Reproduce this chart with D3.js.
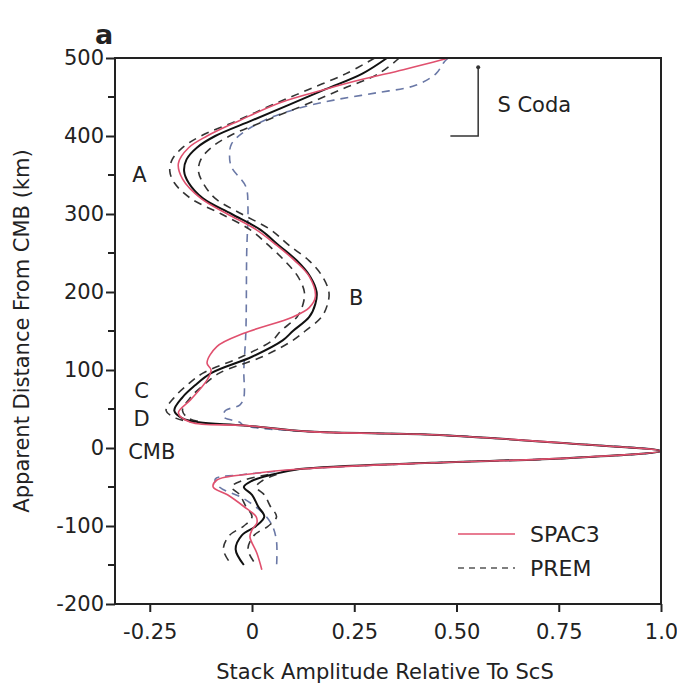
<!DOCTYPE html>
<meta charset="utf-8">
<script src="https://d3js.org/d3.v7.min.js"></script>
<style>
  body { margin: 0; background: #fff; }
  text { font-family: "DejaVu Sans", sans-serif; fill: #222; }
</style>
<div id="chart"></div>
<script>
// observed stack (mean) with its uncertainty half-width
const obsDepth = [500, 480, 460, 440, 420, 400, 385, 370, 355, 340, 320, 300, 280, 260, 240, 220, 200, 185, 168, 150,
  138, 117, 96, 80, 65, 48, 38, 33, 29, 21, 17, 6, -4, -13, -19, -27, -34, -42, -50, -60, -75, -88, -100, -112, -130, -150];
const obsAmp = [0.33, 0.27, 0.18, 0.09, 0.0, -0.09, -0.135, -0.16, -0.166, -0.155, -0.12, -0.05, 0.02, 0.065, 0.11, 0.142, 0.158, 0.155, 0.14, 0.10,
  0.075, 0.0, -0.10, -0.14, -0.17, -0.19, -0.17, -0.13, -0.02, 0.14, 0.44, 0.77, 1.0, 0.77, 0.44, 0.117, 0.05, 0.0, -0.02, 0.0, 0.015, 0.03, 0.01, -0.025, -0.04, -0.02];
const obsErr = [0.03, 0.04, 0.04, 0.04, 0.035, 0.035, 0.035, 0.035, 0.035, 0.035, 0.03, 0.025, 0.025, 0.025, 0.03, 0.03, 0.03, 0.03, 0.03, 0.03,
  0.025, 0.025, 0.02, 0.02, 0.02, 0.02, 0.015, 0.01, 0, 0, 0, 0, 0, 0, 0, 0, 0.01, 0.025, 0.03, 0.03, 0.03, 0.03, 0.03, 0.03, 0.03, 0.03];

// SPAC3 synthetic
const spacDepth = [500, 497, 485, 472, 460, 443, 420, 400, 385, 365, 345, 320, 300, 280, 260, 240, 220, 194, 180, 168,
  147, 130, 109, 100, 87, 62, 45, 33, 29, 21, 17, 6, -4, -13, -19, -27, -33, -41, -50, -60, -75, -88, -96, -105, -114, -135, -156];
const spacAmp = [0.48, 0.46, 0.37, 0.265, 0.18, 0.07, -0.03, -0.11, -0.155, -0.18, -0.17, -0.125, -0.06, 0.01, 0.06, 0.105, 0.14, 0.155, 0.14, 0.10,
  -0.02, -0.086, -0.11, -0.10, -0.11, -0.15, -0.18, -0.15, -0.02, 0.14, 0.44, 0.77, 1.0, 0.77, 0.44, 0.117, 0.0, -0.086, -0.095, -0.06, -0.02, 0.01, 0.012, 0.0, -0.005, 0.012, 0.024];

// PREM synthetic
const premDepth = [500, 495, 480, 465, 455, 446, 435, 420, 405, 390, 375, 360, 335, 310, 250, 150, 100, 65, 55, 48,
  40, 33, 29, 21, 17, 6, -4, -13, -19, -27, -30, -34, -40, -50, -65, -85, -100, -120, -152];
const premAmp = [0.48, 0.47, 0.45, 0.40, 0.30, 0.20, 0.11, 0.03, -0.02, -0.05, -0.055, -0.05, -0.015, -0.01, -0.013, -0.015, -0.02, -0.02, -0.03, -0.065,
  -0.07, -0.03, -0.02, 0.14, 0.44, 0.77, 1.0, 0.77, 0.44, 0.117, 0.06, -0.02, -0.09, -0.08, -0.02, 0.03, 0.05, 0.06, 0.06];

const xTicks = [-0.25, 0, 0.25, 0.5, 0.75, 1.0];
const xTickLabels = ["-0.25", "0", "0.25", "0.50", "0.75", "1.0"];
const yTicks = [-200, -100, 0, 100, 200, 300, 400, 500];
const yMinor = [-150, -50, 50, 150, 250, 350, 450];

const peakLabels = [
  { t: "A", amp: -0.275, depth: 350 },
  { t: "B", amp: 0.255, depth: 193 },
  { t: "C", amp: -0.27, depth: 74 },
  { t: "D", amp: -0.27, depth: 38 },
  { t: "CMB", amp: -0.245, depth: -5 }
];

const width = 677, height = 694;
const svg = d3.select("#chart").append("svg")
  .attr("width", width)
  .attr("height", height);

const x = d3.scaleLinear().domain([-0.335, 1.0]).range([115, 661]);
const y = d3.scaleLinear().domain([-200, 500]).range([604, 58]);

const toRows = (ds, as, es) => ds.map((d, i) => ({ depth: d, amp: as[i], err: es ? es[i] : 0 }));
const obs = toRows(obsDepth, obsAmp, obsErr);
const spac = toRows(spacDepth, spacAmp);
const prem = toRows(premDepth, premAmp);

const line = d3.line()
  .x(d => x(d.amp))
  .y(d => y(d.depth))
  .curve(d3.curveCatmullRom.alpha(0.5));

const plot = svg.append("g");

// PREM
plot.append("path")
  .datum(prem)
  .attr("fill", "none")
  .attr("stroke", "#6a78a6")
  .attr("stroke-width", 1.6)
  .attr("stroke-dasharray", "8,6")
  .attr("d", line);

// uncertainty bounds of the observed stack
[-1, 1].forEach(s => {
  const bound = d3.line()
    .defined(d => d.err > 0)
    .x(d => x(d.amp + s * d.err))
    .y(d => y(d.depth))
    .curve(d3.curveCatmullRom.alpha(0.5));
  plot.append("path")
    .datum(obs)
    .attr("fill", "none")
    .attr("stroke", "#333")
    .attr("stroke-width", 1.6)
    .attr("stroke-dasharray", "8,6")
    .attr("d", bound);
});

// observed stack
plot.append("path")
  .datum(obs)
  .attr("fill", "none")
  .attr("stroke", "#111")
  .attr("stroke-width", 2)
  .attr("d", line);

// SPAC3
plot.append("path")
  .datum(spac)
  .attr("fill", "none")
  .attr("stroke", "#e0506e")
  .attr("stroke-width", 1.6)
  .attr("d", line);

// frame
svg.append("rect")
  .attr("x", 115).attr("y", 58)
  .attr("width", 661 - 115).attr("height", 604 - 58)
  .attr("fill", "none")
  .attr("stroke", "#222")
  .attr("stroke-width", 2);

// x axis
const xAxis = svg.append("g")
  .attr("transform", `translate(0,604)`)
  .call(d3.axisBottom(x).tickValues(xTicks).tickFormat((d, i) => xTickLabels[i]).tickSize(8).tickPadding(12));
xAxis.select(".domain").remove();
xAxis.selectAll("line").attr("stroke", "#222").attr("stroke-width", 2);
xAxis.selectAll("text").attr("font-size", 21).attr("fill", "#222")
  .style("font-family", "'DejaVu Sans', sans-serif");

// y axis
const yAxis = svg.append("g")
  .attr("transform", `translate(115,0)`)
  .call(d3.axisLeft(y).tickValues(yTicks).tickFormat(d => String(d)).tickSize(9).tickPadding(2));
yAxis.select(".domain").remove();
yAxis.selectAll("line").attr("stroke", "#222").attr("stroke-width", 2);
yAxis.selectAll("text").attr("font-size", 21).attr("fill", "#222")
  .style("font-family", "'DejaVu Sans', sans-serif");

svg.append("g").selectAll("line")
  .data(yMinor)
  .join("line")
    .attr("x1", 108).attr("x2", 115)
    .attr("y1", d => y(d)).attr("y2", d => y(d))
    .attr("stroke", "#222").attr("stroke-width", 2);

// axis titles
svg.append("text")
  .attr("x", 385).attr("y", 679)
  .attr("text-anchor", "middle")
  .attr("font-size", 21)
  .text("Stack Amplitude Relative To ScS");

svg.append("text")
  .attr("transform", "translate(29,331) rotate(-90)")
  .attr("text-anchor", "middle")
  .attr("font-size", 21)
  .text("Apparent Distance From CMB (km)");

// panel letter
svg.append("text")
  .attr("x", 95).attr("y", 44)
  .attr("font-size", 27)
  .attr("font-weight", "bold")
  .text("a");

// peak labels
svg.append("g").selectAll("text")
  .data(peakLabels)
  .join("text")
    .attr("x", d => x(d.amp))
    .attr("y", d => y(d.depth))
    .attr("dy", "0.35em")
    .attr("text-anchor", "middle")
    .attr("font-size", 21)
    .text(d => d.t);

// S Coda marker
svg.append("path")
  .attr("d", `M${x(0.485)},${y(400)}H${x(0.553)}V${y(488)}`)
  .attr("fill", "none")
  .attr("stroke", "#333")
  .attr("stroke-width", 1.5);
svg.append("circle")
  .attr("cx", x(0.553)).attr("cy", y(488)).attr("r", 2)
  .attr("fill", "#333");
svg.append("text")
  .attr("x", x(0.6)).attr("y", y(440))
  .attr("dy", "0.35em")
  .attr("font-size", 21)
  .text("S Coda");

// legend
const legend = svg.append("g");
const legendItems = [
  { name: "SPAC3", color: "#e0506e", dash: null, yy: 534 },
  { name: "PREM", color: "#555", dash: "6,5", yy: 568 }
];
legendItems.forEach(d => {
  legend.append("line")
    .attr("x1", 458).attr("x2", 515)
    .attr("y1", d.yy).attr("y2", d.yy)
    .attr("stroke", d.color)
    .attr("stroke-width", 1.5)
    .attr("stroke-dasharray", d.dash);
  legend.append("text")
    .attr("x", 530).attr("y", d.yy)
    .attr("dy", "0.35em")
    .attr("font-size", 22)
    .text(d.name);
});
</script>
